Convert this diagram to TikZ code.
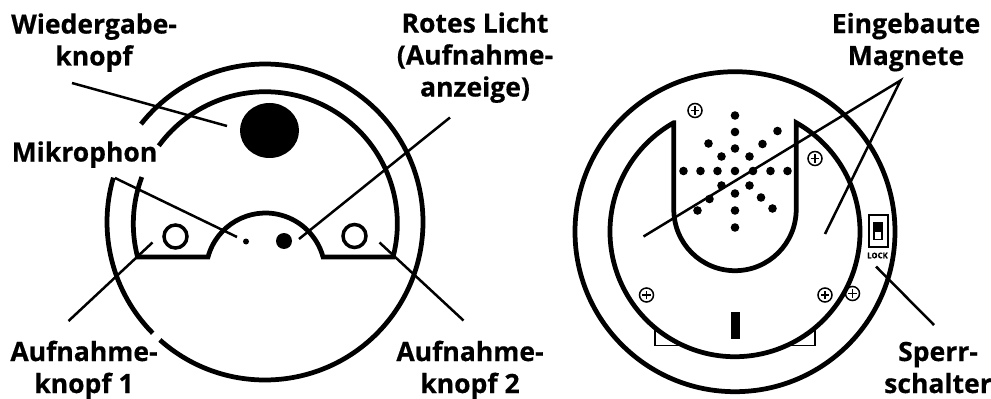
\documentclass[tikz,border=0pt]{standalone}
\usepackage{fontspec}
\setmainfont{Open Sans}[BoldFeatures={FakeBold=0.5}]
\usetikzlibrary{calc}
\tikzset{
  wall/.style={line width=.095cm, line join=miter},
  lead/.style={line width=.05cm},
  lab/.style={font=\bfseries\fontsize{15.1}{18.2}\selectfont, align=center, inner sep=0pt, anchor=base},
  ring/.style={circle, draw, line width=.07cm, minimum size=.46cm, inner sep=0pt},
  screw/.style={circle, draw, fill=white, line width=.03cm, minimum size=.28cm, inner sep=0pt,
    path picture={\draw[line width=.035cm] (path picture bounding box.center) +(-.085,0) -- +(.085,0)
      (path picture bounding box.center) +(0,-.085) -- +(0,.085);}}
}
\newcommand{\screwat}[2]{\node[screw] (#1) at #2 {};}

\begin{document}
\begin{tikzpicture}
		\useasboundingbox (0,0) rectangle (19.82,7.96);
		% left unit
		\coordinate (lout) at (5.30,3.52);
		\coordinate (lin) at (5.306,3.486);
		\draw[wall] ($(lout)+(163.7:3.16)$) arc (163.7:224.7:3.16);
		\draw[wall] ($(lout)+(228.3:3.16)$) arc (228.3:501.7:3.16);
		\draw[wall] ($(lin)+(159.3:2.64)$) arc (159.3:194.6:2.64) -- (4.16,2.82) arc (164.8:15.2:1.192)
			-- (7.861,2.82) arc (-14.6:143.8:2.64);
		\fill (5.39,5.35) ellipse [x radius=.59, y radius=.55];
		\node[ring] (recA) at (3.51,3.23) {};
		\node[ring] (recB) at (7.09,3.24) {};
		\fill (4.92,3.13) circle (.06);
		\fill (5.68,3.14) circle (.16);
		% right unit
		\coordinate (rc) at (14.70,3.326);
		\coordinate (star) at (14.70,4.54);
		\draw[line width=.03cm] (13.10,1.56) rectangle (16.30,1.05);
		\screwat{scE}{(17.05,2.09)}
		\draw[wall] (rc) circle (3.20);
		\draw[wall, fill=white] ($(rc)+(119.3:2.5)$) -- (13.476,3.77) arc (180:360:1.224)
			-- ($(rc)+(60.7:2.5)$) arc (60.7:-240.7:2.5) -- cycle;
		\foreach \dx/\dy in {-1.03/0,-.69/0,-.35/0,0/0,.36/0,.71/0,1.05/0,
			0/1.11,0/.78,0/.45,0/-.45,0/-.79,0/-1.13,
			-.53/.55,-.27/.29,.85/.80,.55/.54,.29/.29,
			-.75/-.79,-.51/-.56,-.27/-.29,.29/-.29,.52/-.53,.75/-.75}
			\fill ($(star)+(\dx,\dy)$) circle (.086);
		\screwat{scA}{(13.90,5.75)}
		\screwat{scB}{(16.30,4.79)}
		\screwat{scC}{(12.93,2.06)}
		\screwat{scD}{(16.50,2.06)}
		\fill (14.61,1.73) rectangle (14.79,1.19);
		% lock switch
		\draw[line width=.04cm] (17.37,3.66) rectangle (17.75,3.03);
		\fill (17.45,3.53) rectangle (17.65,3.16);
		\fill[white] (17.49,3.33) rectangle (17.62,3.18);
		\node[font=\bfseries\fontsize{4.4}{5}\selectfont, inner sep=0pt] (lock) at (17.55,2.85) {LOCK};
		% labels
		\node[lab] (wieder) at (1.88,6.65) {Wiedergabe-\\knopf};
		\node[lab] (rotes) at (9.50,6.03) {Rotes Licht\\(Aufnahme-\\anzeige)};
		\node[lab] (mikro) at (1.69,4.73) {Mikrophon};
		\node[lab] (aufA) at (1.68,.10) {Aufnahme-\\knopf 1};
		\node[lab] (aufB) at (9.40,.10) {Aufnahme-\\knopf 2};
		\node[lab] (magnete) at (18.12,6.66) {Eingebaute\\Magnete};
		\node[lab] (sperr) at (18.76,.10) {Sperr-\\schalter};
		% leaders
		\coordinate (wiederS) at (1.44,6.30);
		\coordinate (wiederT) at (4.54,5.44);
		\coordinate (mikroS) at (2.30,4.40);
		\coordinate (mikroT) at (4.74,3.22);
		\coordinate (rotesS) at (9.00,5.61);
		\coordinate (rotesT) at (5.98,3.18);
		\coordinate (aufAS) at (1.37,1.54);
		\coordinate (aufAT) at (3.05,3.11);
		\coordinate (aufBS) at (9.27,1.55);
		\coordinate (aufBT) at (7.59,3.11);
		\coordinate (magS) at (18.01,6.35);
		\coordinate (magA) at (12.87,3.23);
		\coordinate (magB) at (16.50,3.28);
		\coordinate (sperrS) at (18.68,1.46);
		\coordinate (sperrT) at (17.52,2.63);
		\draw[lead] (wiederS) -- (wiederT);
		\draw[lead] (mikroS) -- (mikroT);
		\draw[lead] (rotesS) -- (rotesT);
		\draw[lead] (aufAS) -- (aufAT);
		\draw[lead] (aufBS) -- (aufBT);
		\draw[lead] (magA) -- (magS) -- (magB);
		\draw[lead] (sperrS) -- (sperrT);
	\end{tikzpicture}
\end{document}
